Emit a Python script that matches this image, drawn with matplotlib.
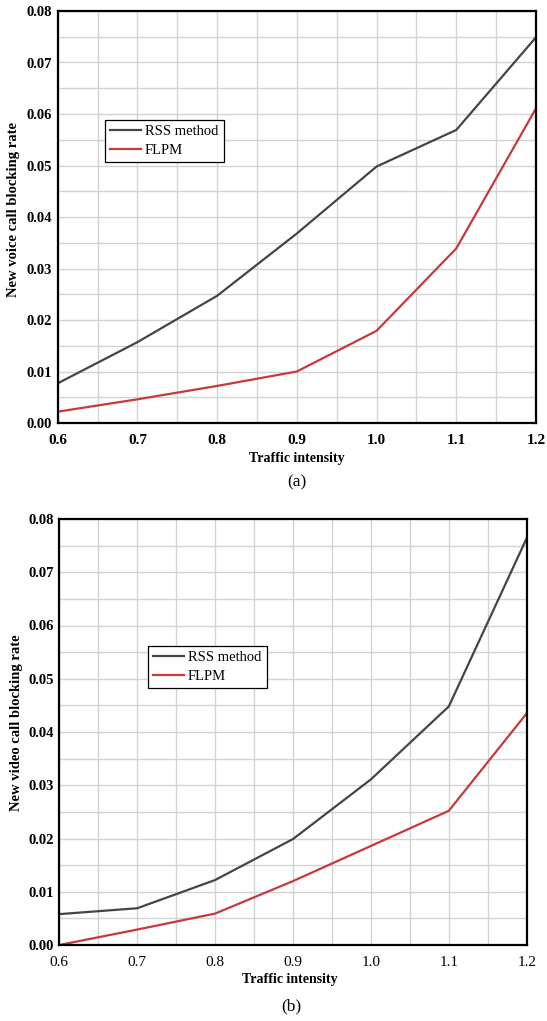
import matplotlib.pyplot as plt
from matplotlib.ticker import MultipleLocator

# traffic intensity values (x axis)
traffic = [0.6, 0.7, 0.8, 0.9, 1.0, 1.1, 1.2]

# (a) new voice call blocking rate
voice_rss = [0.0077, 0.0157, 0.0247, 0.0368, 0.0498, 0.0569, 0.0749]
voice_flpm = [0.0022, 0.0046, 0.0072, 0.0100, 0.0179, 0.0339, 0.0611]

# (b) new video call blocking rate
video_rss = [0.0058, 0.0069, 0.0122, 0.0199, 0.0311, 0.0448, 0.0764]
video_flpm = [0.0000, 0.0029, 0.0059, 0.0120, 0.0186, 0.0252, 0.0435]

x_ticks = [0.6, 0.7, 0.8, 0.9, 1.0, 1.1, 1.2]
y_ticks = [0.00, 0.01, 0.02, 0.03, 0.04, 0.05, 0.06, 0.07, 0.08]

plt.rcParams['font.family'] = ['Liberation Serif', 'DejaVu Serif']

W, H = 547, 1021
fig = plt.figure(figsize=(W / 100, H / 100), dpi=100)

rss_color = '#454545'
flpm_color = '#c8393d'


def make_panel(rect, rss, flpm, ylabel, legend_xy, bold_xticks, xlab_pos, ylab_pos):
    ax = fig.add_axes(rect)
    ax.plot(traffic, rss, color=rss_color, lw=1.6, label='RSS method')
    ax.plot(traffic, flpm, color=flpm_color, lw=1.6, label='FLPM')
    ax.set_xlim(0.6, 1.2)
    ax.set_ylim(0, 0.08)
    ax.set_xticks(x_ticks)
    ax.set_xticklabels(['%.1f' % v for v in x_ticks],
                       fontweight='bold' if bold_xticks else 'normal', fontsize=11)
    ax.set_yticks(y_ticks)
    ax.set_yticklabels(['%.2f' % v for v in y_ticks], fontweight='bold', fontsize=10.5)
    ax.xaxis.set_minor_locator(MultipleLocator(0.05))
    ax.yaxis.set_minor_locator(MultipleLocator(0.005))
    ax.grid(True, which='both', color='#d3d3d3', lw=1.0)
    ax.set_axisbelow(True)
    ax.tick_params(which='both', length=0)
    ax.tick_params(axis='x', pad=8)
    ax.tick_params(axis='y', pad=4)
    for s in ax.spines.values():
        s.set_linewidth(1.6)
        s.set_color('black')
    ax.set_xlabel('Traffic intensity', fontweight='bold', fontsize=10)
    ax.xaxis.set_label_coords(*xlab_pos)
    ax.set_ylabel(ylabel, fontweight='bold', fontsize=10.5)
    ax.yaxis.set_label_coords(*ylab_pos)
    leg = ax.legend(loc='upper left', bbox_to_anchor=legend_xy,
                    bbox_transform=fig.transFigure, fancybox=False,
                    framealpha=1, edgecolor='black', fontsize=10.5,
                    handlelength=2.1, handletextpad=0.3, labelspacing=0.35,
                    borderpad=0.35, borderaxespad=0)
    leg.get_frame().set_linewidth(0.9)
    return ax


# top panel (a)
make_panel([57.7 / W, 1 - 423 / H, (536 - 57.7) / W, (423 - 11) / H],
           voice_rss, voice_flpm, 'New voice call blocking rate',
           (105 / W, 1 - 120 / H), True, (0.50, -0.07), (-0.079, 0.517))

# bottom panel (b)
make_panel([59.3 / W, 1 - 945 / H, (526.7 - 59.3) / W, (945 - 519) / H],
           video_rss, video_flpm, 'New video call blocking rate',
           (148 / W, 1 - 646 / H), False, (0.494, -0.066), (-0.078, 0.521))

fig.text(297 / W, 1 - 482 / H, '(a)', ha='center', va='center', fontsize=12.5)
fig.text(291 / W, 1 - 1006 / H, '(b)', ha='center', va='center', fontsize=12.5)

fig.savefig('out.png', dpi=100)
